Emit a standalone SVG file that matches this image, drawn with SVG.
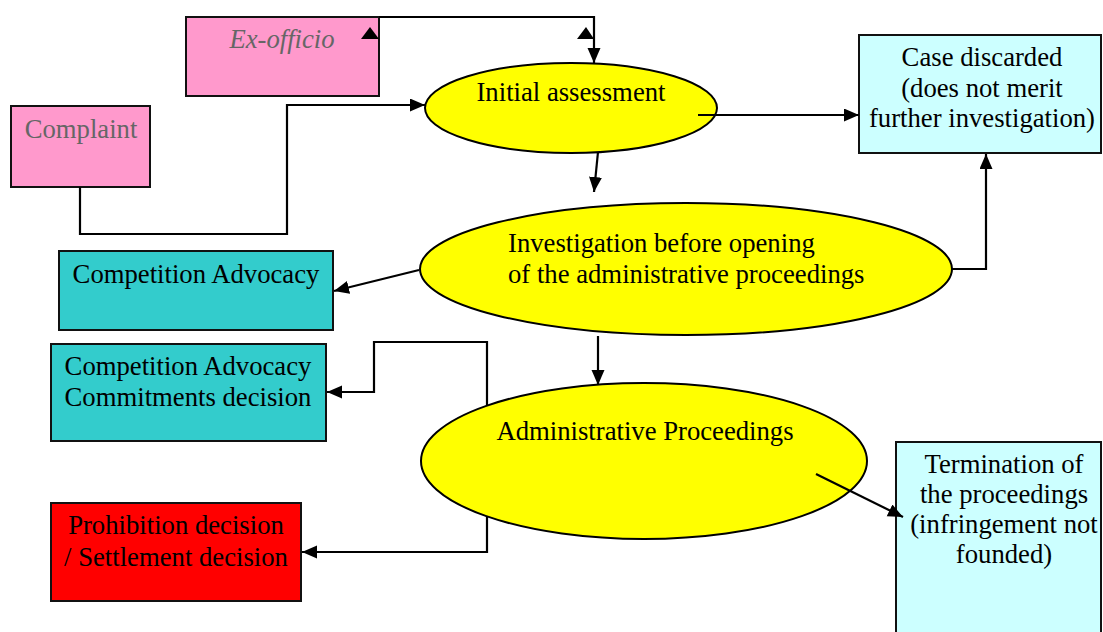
<svg xmlns="http://www.w3.org/2000/svg" width="1103" height="632" viewBox="0 0 1103 632">
<defs>
<marker id="ah" markerUnits="userSpaceOnUse" markerWidth="16" markerHeight="14" refX="15" refY="6.5" orient="auto">
<path d="M0,0 L15,6.5 L0,13 z" fill="#000"/>
</marker>
</defs>
<g id="exofficio">
<rect x="186" y="17" width="193" height="79" fill="#FF99CC" stroke="#111" stroke-width="2"/>
<text x="282" y="48" font-size="26.7" text-anchor="middle" fill="#666" font-style="italic" font-family="Liberation Serif">Ex-officio</text>
</g>
<g id="complaint">
<rect x="11" y="106" width="139" height="81" fill="#FF99CC" stroke="#111" stroke-width="2"/>
<text x="81" y="138" font-size="26.7" text-anchor="middle" fill="#666" font-family="Liberation Serif">Complaint</text>
</g>
<g id="initial">
<ellipse cx="571" cy="108" rx="146" ry="45" fill="#FFFF00" stroke="#000" stroke-width="2"/>
<text x="571" y="101" font-size="26.7" text-anchor="middle" font-family="Liberation Serif">Initial assessment</text>
</g>
<g id="discarded">
<rect x="859" y="35" width="242" height="118" fill="#CCFFFF" stroke="#111" stroke-width="2"/>
<text x="982" y="66" font-size="26.7" text-anchor="middle" font-family="Liberation Serif">Case discarded</text>
<text x="982" y="97" font-size="26.7" text-anchor="middle" font-family="Liberation Serif">(does not merit</text>
<text x="982" y="127" font-size="26.7" text-anchor="middle" font-family="Liberation Serif">further investigation)</text>
</g>
<g id="investigation">
<ellipse cx="686" cy="269" rx="266" ry="66" fill="#FFFF00" stroke="#000" stroke-width="2"/>
<text x="508" y="252" font-size="26.7" font-family="Liberation Serif">Investigation before opening</text>
<text x="508" y="283" font-size="26.7" font-family="Liberation Serif">of the administrative proceedings</text>
</g>
<g id="advocacy">
<rect x="59" y="251" width="274" height="79" fill="#33CCCC" stroke="#111" stroke-width="2"/>
<text x="196" y="283" font-size="26.7" text-anchor="middle" font-family="Liberation Serif">Competition Advocacy</text>
</g>
<g id="commitments">
<rect x="51" y="344" width="275" height="97" fill="#33CCCC" stroke="#111" stroke-width="2"/>
<text x="188" y="375" font-size="26.7" text-anchor="middle" font-family="Liberation Serif">Competition Advocacy</text>
<text x="188" y="406" font-size="26.7" text-anchor="middle" font-family="Liberation Serif">Commitments decision</text>
</g>
<g id="administrative">
<ellipse cx="644" cy="461" rx="223" ry="78" fill="#FFFF00" stroke="#000" stroke-width="2"/>
<text x="645" y="440" font-size="26.7" text-anchor="middle" font-family="Liberation Serif">Administrative Proceedings</text>
</g>
<g id="prohibition">
<rect x="51" y="503" width="250" height="98" fill="#FF0000" stroke="#111" stroke-width="2"/>
<text x="176" y="534" font-size="26.7" text-anchor="middle" font-family="Liberation Serif">Prohibition decision</text>
<text x="176" y="566" font-size="26.7" text-anchor="middle" font-family="Liberation Serif">/ Settlement decision</text>
</g>
<g id="termination">
<rect x="896" y="442" width="205" height="195" fill="#CCFFFF" stroke="#111" stroke-width="2"/>
<text x="1004" y="473" font-size="26.7" text-anchor="middle" font-family="Liberation Serif">Termination of</text>
<text x="1004" y="503" font-size="26.7" text-anchor="middle" font-family="Liberation Serif">the proceedings</text>
<text x="1004" y="533" font-size="26.7" text-anchor="middle" font-family="Liberation Serif">(infringement not</text>
<text x="1004" y="563" font-size="26.7" text-anchor="middle" font-family="Liberation Serif">founded)</text>
</g>
<g id="connectors" fill="none" stroke="#000" stroke-width="2.2">
<path marker-end="url(#ah)" d="M379,17 H594 V63"/>
<polygon points="361,39 379,39 370,27" fill="#000" stroke="none"/>
<polygon points="577,39 594,39 586,27" fill="#000" stroke="none"/>
<path marker-end="url(#ah)" d="M80,187 V234 H287 V105 H425"/>
<path marker-end="url(#ah)" d="M698,115 H859"/>
<path marker-end="url(#ah)" d="M598,152 L594,192"/>
<path marker-end="url(#ah)" d="M951,269 H986 V154"/>
<path marker-end="url(#ah)" d="M419,270 L334,291"/>
<path marker-end="url(#ah)" d="M487,406 V342 H374 V392 H327"/>
<path marker-end="url(#ah)" d="M487,516 V552 H302"/>
<path marker-end="url(#ah)" d="M598,336 V385"/>
<path marker-end="url(#ah)" d="M816,474 L903,517"/>
</g>
</svg>
